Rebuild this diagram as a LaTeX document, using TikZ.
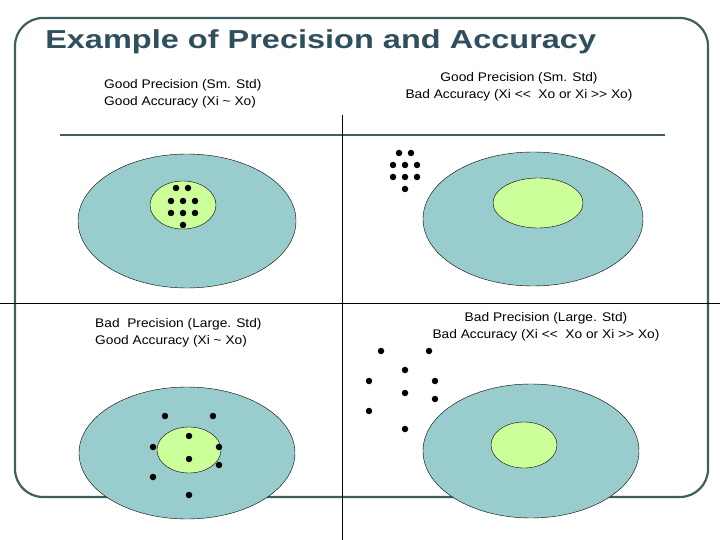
\documentclass[tikz,border=0pt]{standalone}
\usepackage{fontspec}
\setmainfont{Liberation Sans}
\begin{document}
\begin{tikzpicture}[x=1pt,y=-1pt,
 outer/.style={draw=black,fill=outerc},
 inner/.style={draw=black,fill=innerc},
 dot/.style={circle,fill=black,inner sep=0pt,minimum size=6.5pt},
 lbl/.style={font=\fontsize{12.5}{14}\selectfont,inner sep=0pt,xscale=1.1}]
\definecolor{outerc}{HTML}{99CCCC}
\definecolor{innerc}{HTML}{CCFF99}
\definecolor{framec}{HTML}{3F5F5F}
\definecolor{titlec}{HTML}{2F4F5F}
\useasboundingbox (0,0) rectangle (720,540);
\draw[framec,line width=2.2pt,rounded corners=28pt] (15,18) rectangle (708,497);
\node[anchor=west,font=\bfseries\fontsize{26}{28}\selectfont,text=titlec,inner sep=0pt,xscale=1.25] (title) at (45,42) {Example of Precision and Accuracy};
\draw[framec,line width=2.5pt] (60,135) -- (665,135);
\draw[black,line width=0.5pt] (342,115) -- (342,540);
\draw[black,line width=0.5pt] (0,303) -- (720,303);
% ellipses
\draw[outer] (187,221) ellipse [x radius=109,y radius=67];
\draw[inner] (183,205) ellipse [x radius=33,y radius=24];
\draw[outer] (533,219) ellipse [x radius=110,y radius=67];
\draw[inner] (538,203) ellipse [x radius=45,y radius=25];
\draw[outer] (187,453) ellipse [x radius=108,y radius=66];
\draw[inner] (189,450) ellipse [x radius=32,y radius=23];
\draw[outer] (531,451) ellipse [x radius=108,y radius=67];
\draw[inner] (524,445) ellipse [x radius=33,y radius=23];
% dots
\foreach \p in {(176,188),(188,188),(171,201),(183,201),(195,201),(171,213),(183,213),(195,213),(183,225),
 (399,153),(411,153),(393,165),(405,165),(417,165),(393,177),(405,177),(417,177),(405,189),
 (165,416),(213,416),(189,436),(153,447),(219,447),(189,459),(153,477),(219,465),(189,495),
 (381,351),(429,351),(405,370),(369,381),(435,381),(405,393),(369,411),(435,399),(405,429)}
 \node[dot] at \p {};
% labels
\node[lbl,anchor=west] (l1) at (104,85) {Good Precision (Sm. Std)};
\node[lbl,anchor=west] (l2) at (104,102) {Good Accuracy (Xi \textasciitilde{} Xo)};
\node[lbl] (l3) at (519,78) {Good Precision (Sm. Std)};
\node[lbl] (l4) at (519,95) {Bad Accuracy (Xi {<}{<}\ \ Xo or Xi {>}{>} Xo)};
\node[lbl,anchor=west] (l5) at (95,324) {Bad\ \ Precision (Large. Std)};
\node[lbl,anchor=west] (l6) at (95,341) {Good Accuracy (Xi \textasciitilde{} Xo)};
\node[lbl] (l7) at (546,318) {Bad Precision (Large. Std)};
\node[lbl] (l8) at (546,335) {Bad Accuracy (Xi {<}{<}\ \ Xo or Xi {>}{>} Xo)};
\end{tikzpicture}
\end{document}
